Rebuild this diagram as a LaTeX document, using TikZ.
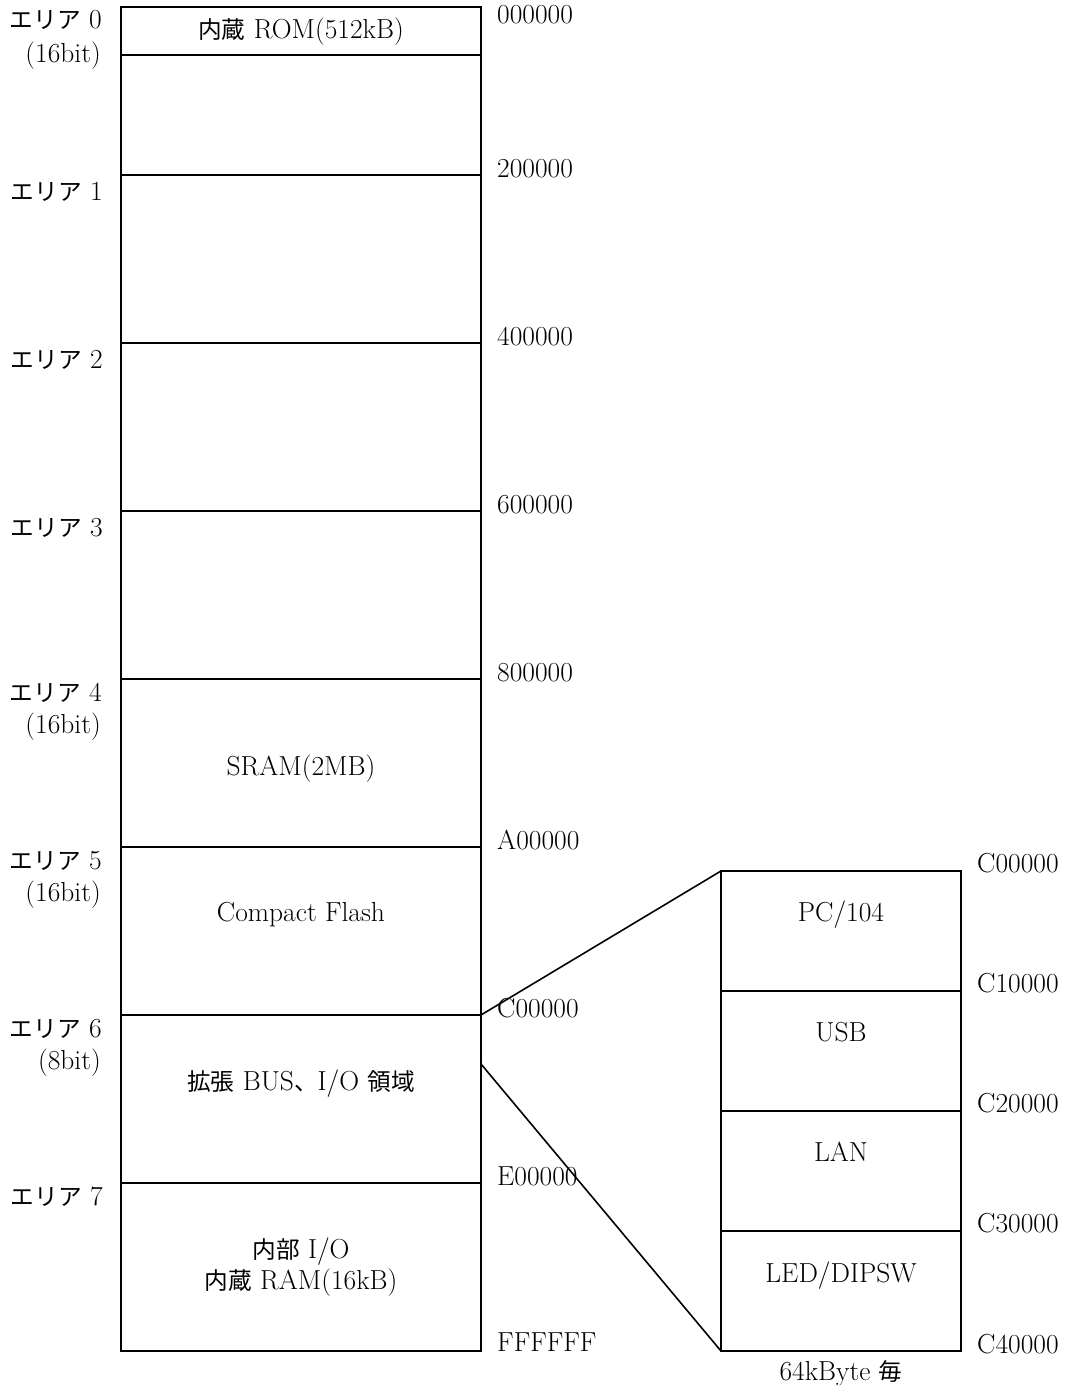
\documentclass[tikz,border=0pt]{standalone}
\usepackage{fontspec}
\newfontfamily\jpfont[Scale=0.86]{Noto Sans CJK JP}
\newcommand{\jp}[1]{{\jpfont #1}}
\begin{document}
\begin{tikzpicture}[x=1pt,y=-1pt,
  blk/.style={draw,line width=1.6pt,rectangle,inner sep=0pt,outer sep=0pt,minimum width=360pt},
  sub/.style={draw,line width=1.6pt,rectangle,inner sep=0pt,outer sep=0pt,minimum width=240pt,minimum height=120pt},
  txt/.style={inner sep=0pt,anchor=base,font=\fontsize{27.5}{33}\selectfont},
  lbl/.style={inner sep=0pt,anchor=base east,font=\fontsize{27.5}{33}\selectfont},
  adr/.style={inner sep=0pt,anchor=base west,font=\fontsize{27.5}{33}\selectfont},
  conn/.style={line width=1.6pt}]
\useasboundingbox (0,0) rectangle (1068,1385);
% main column
\node[blk,minimum height=48pt]  (a0) at (301,31) {};
\node[blk,minimum height=120pt] (a0b) at (301,115) {};
\node[blk,minimum height=168pt] (a1) at (301,259) {};
\node[blk,minimum height=168pt] (a2) at (301,427) {};
\node[blk,minimum height=168pt] (a3) at (301,595) {};
\node[blk,minimum height=168pt] (a4) at (301,763) {};
\node[blk,minimum height=168pt] (a5) at (301,931) {};
\node[blk,minimum height=168pt] (a6) at (301,1099) {};
\node[blk,minimum height=168pt] (a7) at (301,1267) {};
% sub column
\node[sub] (s0) at (841,931) {};
\node[sub] (s1) at (841,1051) {};
\node[sub] (s2) at (841,1171) {};
\node[sub] (s3) at (841,1291) {};
% connectors
\coordinate (a6low) at (481,1064);
\draw[conn] (a6.north east) -- (s0.north west);
\draw[conn] (a6low) -- (s3.south west);
% block texts
\node[txt] (t0) at (301,38) {\jp{内蔵} ROM(512kB)};
\node[txt] (t4) at (301,775) {SRAM(2MB)};
\node[txt] (t5) at (301,921) {Compact Flash};
\node[txt] (t6) at (301,1090) {\jp{拡張} BUS\jp{、}I/O \jp{領域}};
\node[txt] (t7a) at (301,1258) {\jp{内部} I/O};
\node[txt] (t7b) at (301,1289) {\jp{内蔵} RAM(16kB)};
\node[txt] (u0) at (841,921) {PC/104};
\node[txt] (u1) at (841,1041) {USB};
\node[txt] (u2) at (841,1161) {LAN};
\node[txt] (u3) at (841,1282) {LED/DIPSW};
\node[txt] (u4) at (841,1380) {64kByte \jp{毎}};
% area labels
\node[lbl] (l0) at (102,28) {\jp{エリア} 0};
\node[lbl] (l0b) at (101,62) {(16bit)};
\node[lbl] (l1) at (103,200) {\jp{エリア} 1};
\node[lbl] (l2) at (103,368) {\jp{エリア} 2};
\node[lbl] (l3) at (103,536) {\jp{エリア} 3};
\node[lbl] (l4) at (102,701) {\jp{エリア} 4};
\node[lbl] (l4b) at (101,733) {(16bit)};
\node[lbl] (l5) at (102,869) {\jp{エリア} 5};
\node[lbl] (l5b) at (101,901) {(16bit)};
\node[lbl] (l6) at (102,1037) {\jp{エリア} 6};
\node[lbl] (l6b) at (101,1069) {(8bit)};
\node[lbl] (l7) at (103,1205) {\jp{エリア} 7};
% addresses
\node[adr] (d0) at (497,23) {000000};
\node[adr] (d1) at (497,177) {200000};
\node[adr] (d2) at (497,345) {400000};
\node[adr] (d3) at (497,513) {600000};
\node[adr] (d4) at (497,681) {800000};
\node[adr] (d5) at (497,849) {A00000};
\node[adr] (d6) at (497,1017) {C00000};
\node[adr] (d7) at (497,1185) {E00000};
\node[adr] (d8) at (497,1351) {FFFFFF};
\node[adr] (e0) at (977,872) {C00000};
\node[adr] (e1) at (977,992) {C10000};
\node[adr] (e2) at (977,1112) {C20000};
\node[adr] (e3) at (977,1232) {C30000};
\node[adr] (e4) at (977,1353) {C40000};
\end{tikzpicture}
\end{document}
